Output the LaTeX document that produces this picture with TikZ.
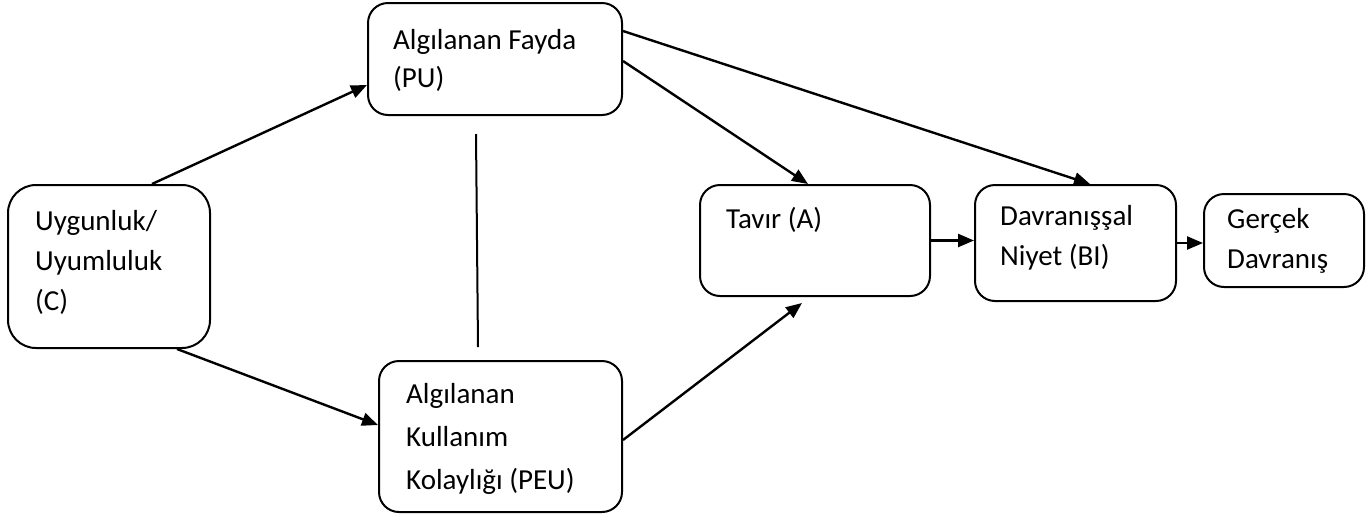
\documentclass[tikz,border=0pt]{standalone}
\usepackage{fontspec}
\setmainfont{Carlito}
\usetikzlibrary{arrows.meta}

\begin{document}
\begin{tikzpicture}[
    x=1pt,
    y=-1pt,
    kutu/.style={
        draw,
        rounded corners=20pt,
        line width=2pt,
        inner sep=0pt,
        anchor=north west,
    },
    yazi/.style={
        anchor=north west,
        align=left,
        inner sep=0pt,
        font={\fontsize{29}{40}\selectfont},
        execute at begin node=\strut,
    },
    ok/.style={
        -{Triangle[length=16pt,width=13pt]},
        line width=2.4pt,
    },
]
\useasboundingbox (0,0) rectangle (1371,515);

% kutular
\node[kutu, rounded corners=28pt, minimum width=202pt, minimum height=163pt] (c) at (7,184) {};
\node[kutu, minimum width=254pt, minimum height=112pt] (pu) at (367,2) {};
\node[kutu, minimum width=243pt, minimum height=151pt] (peu) at (378,360) {};
\node[kutu, minimum width=230pt, minimum height=111pt] (a) at (699,184) {};
\node[kutu, minimum width=201pt, minimum height=116pt] (bi) at (974,184) {};
\node[kutu, minimum width=160pt, minimum height=93pt] (ger) at (1203,193) {};

% yazilar
\node[yazi] (c-yazi) at ([xshift=28pt,yshift=-26pt]c.north west) {Uygunluk/\\Uyumluluk\\(C)};
\node[yazi, font={\fontsize{29}{38}\selectfont}] (pu-yazi) at ([xshift=26pt,yshift=-27pt]pu.north west) {Algılanan Fayda\\(PU)};
\node[yazi, font={\fontsize{29}{43}\selectfont}] (peu-yazi) at ([xshift=28pt,yshift=-23pt]peu.north west) {Algılanan\\Kullanım\\Kolaylığı (PEU)};
\node[yazi] (a-yazi) at ([xshift=27pt,yshift=-16pt]a.north west) {Tavır (A)};
\node[yazi] (bi-yazi) at ([xshift=26pt,yshift=-21pt]bi.north west) {Davranışşal\\Niyet (BI)};
\node[yazi] (ger-yazi) at ([xshift=24pt,yshift=-15pt]ger.north west) {Gerçek\\Davranış};

% oklar
\draw[ok] ([xshift=145pt]c.north west) -- ([yshift=-83pt]pu.north west);
\draw[ok] ([xshift=170pt]c.south west) -- ([yshift=-65pt]peu.north west);
\draw[ok] ([yshift=-59pt]pu.north east) -- ([xshift=109pt]a.north west);
\draw[ok] ([yshift=-29pt]pu.north east) -- ([xshift=116pt]bi.north west);
\draw[ok] ([yshift=-80pt]peu.north east) -- ([xshift=103pt,yshift=-6pt]a.south west);
\draw[ok] (a.east) -- (a.east -| bi.west);
\draw[ok] (bi.east) -- (bi.east -| ger.west);
\draw[line width=2pt] ([xshift=109pt,yshift=-18pt]pu.south west) -- ([xshift=100pt,yshift=13pt]peu.north west);
\end{tikzpicture}
\end{document}
